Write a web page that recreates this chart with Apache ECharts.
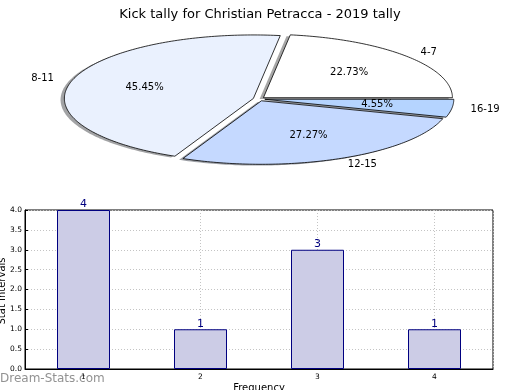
<!DOCTYPE html>
<html><head><meta charset="utf-8">
<script src="https://cdn.jsdelivr.net/npm/echarts@6/dist/echarts.min.js"></script>
<style>html,body{margin:0;padding:0;background:#fff}#c{width:520px;height:390px}</style>
</head><body><div id="c"></div>
<script>
// ---- data ----
const chartTitle = 'Kick tally for Christian Petracca - 2019 tally';
const pieLabels = ['4-7', '8-11', '12-15', '16-19'];
const pieValues = [5, 10, 6, 1];
const pieColors = ['#ffffff', '#eaf1fe', '#c5d9ff', '#b5d4ff'];
const barCategories = ['1', '2', '3', '4'];
const barValues = [4, 1, 3, 1];
const xAxisName = 'Frequency';
const yAxisName = 'Stat Intervals';
const watermark = 'Dream-Stats.com';

// ---- pie layout (elliptical, like an auto-aspect matplotlib pie) ----
const PIE = { cx: 259, cy: 99, rx: 189, ry: 63.5, explode: 0.031, sdx: -3.8, sdy: 1.3 };
const FONT = '"DejaVu Sans", Verdana, sans-serif';

function wedgeGeom(i) {
  const total = pieValues.reduce((a, b) => a + b, 0);
  let start = 0;
  for (let k = 0; k < i; k++) start += pieValues[k];
  const t1 = start / total * 2 * Math.PI;
  const t2 = (start + pieValues[i]) / total * 2 * Math.PI;
  const tm = (t1 + t2) / 2;
  const ox = PIE.cx + PIE.explode * PIE.rx * Math.cos(tm);
  const oy = PIE.cy - PIE.explode * PIE.ry * Math.sin(tm);
  const pts = [[ox, oy]];
  const n = Math.max(8, Math.ceil((t2 - t1) / (Math.PI / 180)));
  for (let j = 0; j <= n; j++) {
    const t = t1 + (t2 - t1) * j / n;
    pts.push([ox + PIE.rx * Math.cos(t), oy - PIE.ry * Math.sin(t)]);
  }
  return { pts, ox, oy, tm, frac: pieValues[i] / total };
}

function shadowColor(hex) {
  const r = parseInt(hex.slice(1, 3), 16), g = parseInt(hex.slice(3, 5), 16), b = parseInt(hex.slice(5, 7), 16);
  return 'rgba(' + Math.round(r * 0.3) + ',' + Math.round(g * 0.3) + ',' + Math.round(b * 0.3) + ',0.5)';
}

const gridLine = { show: true, lineStyle: { color: '#c4c4c4', type: [1, 2], width: 1 } };

const chart = echarts.init(document.getElementById('c'), null, { renderer: 'canvas' });
chart.setOption({
  animation: false,
  backgroundColor: '#fff',
  title: {
    text: chartTitle, left: 'center', top: 3,
    textStyle: { fontFamily: FONT, fontSize: 13, fontWeight: 'normal', color: '#000' }
  },
  graphic: [{
    type: 'text', left: 0, top: 373, silent: true,
    style: { text: watermark, fill: '#929292', font: '12px ' + FONT }
  }, {
    type: 'text', x: 2.5, y: 291, rotation: Math.PI / 2, silent: true,
    style: { text: yAxisName, fill: '#000', font: '10px ' + FONT, align: 'center', verticalAlign: 'middle' }
  }],
  grid: { left: 25, top: 210, width: 468, height: 159, outerBoundsMode: 'none', containLabel: false,
    show: true, borderColor: '#000', borderWidth: 1, backgroundColor: 'transparent' },
  xAxis: [{
    type: 'category', data: barCategories, boundaryGap: true, position: 'bottom',
    name: xAxisName, nameLocation: 'middle', nameGap: 14,
    nameTextStyle: { fontFamily: FONT, fontSize: 10, color: '#000' },
    axisLine: { show: true, lineStyle: { color: '#000' } },
    axisTick: { show: true, inside: true, length: 3, alignWithLabel: true, lineStyle: { color: '#000' } },
    axisLabel: { fontFamily: FONT, fontSize: 7.5, color: '#000', margin: 4 },
    splitLine: { show: false }
  }, {
    type: 'value', min: 0.5, max: 4.5, position: 'bottom',
    axisLine: { show: false }, axisTick: { show: false }, axisLabel: { show: false },
    splitLine: gridLine
  }],
  yAxis: {
    type: 'value', min: 0, max: 4, interval: 0.5,
    axisLine: { show: true, lineStyle: { color: '#000' } },
    axisTick: { show: true, inside: true, length: 3, lineStyle: { color: '#000' } },
    axisLabel: { fontFamily: FONT, fontSize: 7.5, color: '#000', margin: 3,
      formatter: v => v.toFixed(1) },
    splitLine: gridLine
  },
  series: [
    {
      type: 'custom', coordinateSystem: 'none', silent: true, z: 1,
      data: pieValues,
      renderItem: function (params) {
        const g = wedgeGeom(params.dataIndex);
        return {
          type: 'polygon',
          shape: { points: g.pts.map(p => [p[0] + PIE.sdx, p[1] + PIE.sdy]) },
          style: { fill: shadowColor(pieColors[params.dataIndex]), stroke: 'none' }
        };
      }
    },
    {
      type: 'custom', coordinateSystem: 'none', silent: true, z: 2,
      data: pieValues,
      renderItem: function (params) {
        const i = params.dataIndex;
        const g = wedgeGeom(i);
        const c = Math.cos(g.tm), s = Math.sin(g.tm);
        return {
          type: 'group',
          children: [
            { type: 'polygon', shape: { points: g.pts },
              style: { fill: pieColors[i], stroke: '#000', lineWidth: 0.8, lineJoin: 'miter' } },
            { type: 'text', x: g.ox + 0.6 * PIE.rx * c, y: g.oy - 0.6 * PIE.ry * s,
              style: { text: (g.frac * 100).toFixed(2) + '%', fill: '#000', font: '10px ' + FONT,
                align: 'center', verticalAlign: 'middle' } },
            { type: 'text', x: g.ox + 1.1 * PIE.rx * c, y: g.oy - 1.1 * PIE.ry * s,
              style: { text: pieLabels[i], fill: '#000', font: '10px ' + FONT,
                align: c >= 0 ? 'left' : 'right', verticalAlign: 'middle' } }
          ]
        };
      }
    },
    {
      type: 'bar', z: 3, xAxisIndex: 0, yAxisIndex: 0,
      data: barValues,
      barWidth: 53,
      itemStyle: { color: '#ccccE6', borderColor: '#000080', borderWidth: 1 },
      label: { show: true, position: 'top', distance: 0, color: '#000080',
        fontFamily: FONT, fontSize: 11 }
    }
  ]
});
</script>
</body></html>
